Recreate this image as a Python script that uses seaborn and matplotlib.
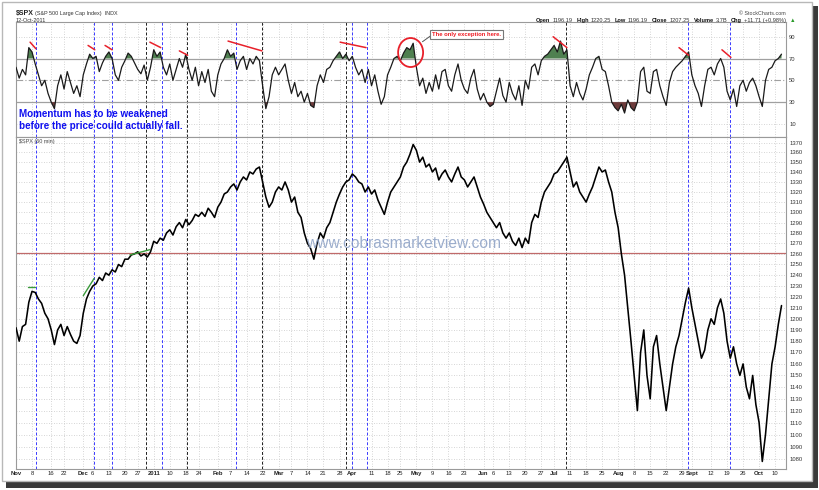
import numpy as np
import pandas as pd
import matplotlib
matplotlib.use("Agg")
import matplotlib.pyplot as plt
import seaborn as sns
from matplotlib.patches import Ellipse, Rectangle

sns.set_theme(style="white")
plt.rcParams['font.family'] = ['Liberation Sans', 'DejaVu Sans']

# ---------------- data ----------------
holidays = ["2010-11-25", "2010-12-24", "2011-01-17", "2011-02-21",
            "2011-04-22", "2011-05-30", "2011-07-04", "2011-09-05"]

price = [1192, 1180, 1193, 1195, 1215, 1225, 1224, 1218, 1214, 1205,
         1200, 1190, 1177, 1190, 1195, 1185, 1193, 1186, 1180, 1178,
         1185, 1205, 1218, 1225, 1230, 1232, 1238, 1235, 1242, 1240,
         1245, 1243, 1250, 1248, 1255, 1255, 1259, 1260, 1262, 1258,
         1260, 1257, 1262, 1272, 1270, 1275, 1273, 1280, 1283, 1278,
         1286, 1290, 1285, 1293, 1288, 1292, 1298, 1296, 1300, 1296,
         1304, 1300, 1295, 1305, 1310, 1318, 1320, 1325, 1328, 1322,
         1330, 1335, 1332, 1340, 1338, 1343, 1345, 1330, 1315, 1305,
         1310, 1320, 1325, 1322, 1330, 1322, 1310, 1315, 1300, 1295,
         1280, 1270, 1265, 1255, 1270, 1280, 1275, 1285, 1290, 1300,
         1310, 1318, 1325, 1330, 1332, 1338, 1335, 1330, 1328, 1320,
         1325, 1318, 1322, 1312, 1305, 1298, 1310, 1320, 1325, 1330,
         1335, 1345, 1350, 1358, 1368, 1362, 1350, 1355, 1345, 1348,
         1340, 1344, 1332, 1338, 1342, 1335, 1330, 1338, 1345, 1335,
         1332, 1325, 1330, 1335, 1325, 1315, 1308, 1300, 1295, 1290,
         1285, 1290, 1280, 1275, 1280, 1272, 1268, 1275, 1266, 1275,
         1270, 1290, 1298, 1295, 1310, 1320, 1325, 1330, 1338, 1340,
         1345, 1350, 1355, 1340, 1325, 1330, 1320, 1315, 1310, 1318,
         1325, 1335, 1345, 1340, 1342, 1330, 1320, 1300, 1285, 1260,
         1240, 1210, 1180, 1150, 1120, 1170, 1190, 1150, 1130, 1175,
         1185, 1160, 1140, 1120, 1140, 1160, 1175, 1185, 1200, 1215,
         1228, 1210, 1195, 1180, 1165, 1172, 1190, 1200, 1195, 1210,
         1218, 1205, 1180, 1165, 1175, 1160, 1150, 1160, 1140, 1130,
         1150, 1125, 1110, 1078, 1100, 1130, 1160, 1175, 1195, 1212]

rsi = [62, 52, 60, 55, 80, 76, 65, 55, 45, 50,
       38, 30, 24, 45, 55, 42, 58, 48, 38, 45,
       35, 55, 65, 74, 70, 72, 58, 66, 72, 76,
       70, 55, 50, 62, 68, 75, 72, 66, 60, 56,
       64, 50, 62, 78, 72, 76, 62, 55, 65, 50,
       60, 70, 62, 74, 60, 50, 62, 45, 58, 48,
       60, 40, 35, 55, 65, 70, 78, 72, 75, 60,
       68, 72, 60, 70, 65, 72, 68, 45, 24, 35,
       55, 62, 55, 60, 65, 50, 38, 48, 35, 40,
       30, 38, 27, 25, 45, 55, 48, 60, 62, 68,
       72, 76, 70, 74, 68, 72, 62, 55, 60, 48,
       60, 45, 55, 40, 28, 35, 55, 62, 70, 72,
       68, 75, 80, 78, 84, 62, 45, 52, 38, 48,
       40, 55, 42, 58, 60, 45, 40, 55, 65, 50,
       42, 38, 52, 60, 42, 32, 38, 30, 26, 28,
       40, 52, 36, 30, 48, 38, 32, 45, 27, 50,
       42, 62, 65, 55, 68, 72, 74, 78, 82, 76,
       86, 74, 78, 45, 35, 48, 38, 32, 42, 55,
       62, 70, 72, 60, 58, 45, 30, 25, 22, 28,
       20, 32, 25, 22, 30, 58, 62, 40, 38, 58,
       60, 45, 35, 27, 48, 58, 62, 65, 68, 72,
       76, 55, 45, 38, 26, 45, 60, 62, 55, 65,
       70, 62, 40, 32, 42, 26, 45, 50, 40, 48,
       52, 45, 35, 26, 50, 60, 62, 68, 70, 74]

tick_dates = ["2010-11-01", "2010-11-08", "2010-11-16", "2010-11-22", "2010-12-01",
              "2010-12-06", "2010-12-13", "2010-12-20", "2010-12-27", "2011-01-03",
              "2011-01-10", "2011-01-18", "2011-01-24", "2011-02-01", "2011-02-07",
              "2011-02-14", "2011-02-22", "2011-03-01", "2011-03-07", "2011-03-14",
              "2011-03-21", "2011-03-28", "2011-04-01", "2011-04-11", "2011-04-18",
              "2011-04-25", "2011-05-02", "2011-05-09", "2011-05-16", "2011-05-23",
              "2011-06-01", "2011-06-06", "2011-06-13", "2011-06-20", "2011-06-27",
              "2011-07-01", "2011-07-11", "2011-07-18", "2011-07-25", "2011-08-01",
              "2011-08-08", "2011-08-15", "2011-08-22", "2011-08-29", "2011-09-01",
              "2011-09-12", "2011-09-19", "2011-09-26", "2011-10-03", "2011-10-10"]
tick_labels = ["Nov", "8", "16", "22", "Dec", "6", "13", "20", "27", "2011",
               "10", "18", "24", "Feb", "7", "14", "22", "Mar", "7", "14",
               "21", "28", "Apr", "11", "18", "25", "May", "9", "16", "23",
               "Jun", "6", "13", "20", "27", "Jul", "11", "18", "25", "Aug",
               "8", "15", "22", "29", "Sept", "12", "19", "26", "Oct", "10"]

price_ticks = list(range(1080, 1380, 10))
rsi_ticks = [10, 30, 50, 70, 90]

blue_vlines = [6.2, 24.4, 30.0, 45.6, 68.7, 104.9, 109.6, 209.8, 222.9]
black_vlines = [40.6, 53.4, 76.8, 103.0, 171.7]

red_segments = [((4.4, 85), (6.2, 79)), ((22.5, 82), (24.6, 78)),
                ((27.8, 82), (30.0, 78)), ((41.8, 85), (45.2, 80)),
                ((51.0, 77), (53.6, 73)), ((66.2, 86), (76.8, 77)),
                ((101.2, 85), (109.3, 80)), ((167.7, 90), (172.0, 80)),
                ((207.0, 80), (210.0, 73)), ((220.4, 78), (223.2, 71))]
green_segments = [((3.7, 1229), (6.0, 1229)), ((21.0, 1221), (24.4, 1237)),
                  ((35.6, 1259), (41.8, 1264))]
support_level = 1261

# ---------------- layout ----------------
W, H = 820, 490
fig = plt.figure(figsize=(8.2, 4.9), dpi=100)
fig.patch.set_facecolor("white")


def fx(px):
    return px / W


def fy(py):
    return 1 - py / H


fig.add_artist(Rectangle((fx(6), fy(488)), 812 / W, 482 / H, transform=fig.transFigure,
                         fc="#3a3a3a", ec="none", zorder=-3))
fig.add_artist(Rectangle((fx(2), fy(481)), 810 / W, 479 / H, transform=fig.transFigure,
                         fc="white", ec="#b8b8b8", lw=1, zorder=-2))

ax_r = fig.add_axes([fx(16), fy(137), 770 / W, 115 / H])
ax_p = fig.add_axes([fx(16), fy(469), 770 / W, 332 / H])

days = pd.bdate_range("2010-11-01", "2011-10-12")
days = days[~days.isin(pd.to_datetime(holidays))]
idx = np.arange(len(days))
tick_pos = [int(np.searchsorted(days, pd.Timestamp(d))) for d in tick_dates]

df = pd.DataFrame({"i": idx, "price": price, "rsi": rsi})

XMAX = 240.4
grid_kw = dict(color="#c8c8c8", lw=0.6, ls=(0, (1, 2)), zorder=0)

for ax in (ax_r, ax_p):
    ax.set_xlim(0, XMAX)
    ax.set_facecolor("white")
    for s in ax.spines.values():
        s.set_color("#9a9a9a")
        s.set_linewidth(0.8)
    for t in tick_pos:
        ax.axvline(t, **grid_kw)
    for v in blue_vlines:
        ax.axvline(v, color="#3a3aff", lw=0.7, ls=(0, (3, 2)), zorder=1)
    for v in black_vlines:
        ax.axvline(v, color="#202020", lw=0.7, ls=(0, (3, 2)), zorder=1)
    ax.yaxis.tick_right()
    ax.tick_params(axis="y", length=0, pad=2.2, labelsize=4.2, colors="#333333")
    ax.tick_params(axis="x", length=0)

# ---------------- RSI panel ----------------
ax_r.set_ylim(-2, 103.5)
for lv in (10, 90):
    ax_r.axhline(lv, **grid_kw)
ax_r.axhline(70, color="#a0a0a0", lw=0.9, zorder=1)
ax_r.axhline(30, color="#a0a0a0", lw=0.9, zorder=1)
ax_r.axhline(50, color="#a0a0a0", lw=0.8, ls=(0, (6, 2, 1, 2)), zorder=1)
r = np.array(rsi, dtype=float)
ax_r.fill_between(idx, r, 70, where=r >= 70, interpolate=True, color="#4f8050", lw=0, zorder=2)
ax_r.fill_between(idx, r, 30, where=r <= 30, interpolate=True, color="#6e3c3c", lw=0, zorder=2)
sns.lineplot(data=df, x="i", y="rsi", ax=ax_r, color="#1a1a1a", lw=0.9, estimator=None, zorder=3)
ax_r.set_yticks(rsi_ticks)
ax_r.set_yticklabels([str(v) for v in rsi_ticks])
ax_r.set_xticks([])
ax_r.set_xlabel("")
ax_r.set_ylabel("")
for (a, b) in red_segments:
    ax_r.plot([a[0], b[0]], [a[1], b[1]], color="#e8202a", lw=1.1, zorder=4)

ax_r.add_patch(Ellipse((123.2, 75.5), 7.8, 26.6, fill=False, ec="#e8202a", lw=1.3, zorder=5))
ax_r.plot([126.9, 129.3], [85.4, 90.5], color="#555555", lw=0.7, zorder=5)
ax_r.text(130.0, 92.0, "The only exception here.", fontsize=4.2, fontweight="bold",
          color="#ee1c24", va="center", ha="left", zorder=6,
          bbox=dict(boxstyle="square,pad=0.35", fc="white", ec="#777777", lw=0.8))

# ---------------- price panel ----------------
ax_p.set_yscale("log")
ax_p.set_ylim(1071.9, 1375.7)
for lv in price_ticks:
    ax_p.axhline(lv, **grid_kw)
ax_p.axhline(support_level, color="#c06a6a", lw=0.9, zorder=1)
sns.lineplot(data=df, x="i", y="price", ax=ax_p, color="black", lw=1.15, estimator=None, zorder=3)
ax_p.yaxis.set_minor_locator(matplotlib.ticker.NullLocator())
ax_p.set_yticks(price_ticks)
ax_p.set_yticklabels([str(v) for v in price_ticks])
ax_p.set_xlabel("")
ax_p.set_ylabel("")
for (a, b) in green_segments:
    ax_p.plot([a[0], b[0]], [a[1], b[1]], color="#3a9a3a", lw=1.0, zorder=4)

ax_p.set_xticks(tick_pos)
ax_p.set_xticklabels(tick_labels)
ax_p.tick_params(axis="x", pad=1.6, labelsize=4.2, colors="#222222")
for lab in ax_p.get_xticklabels():
    if not lab.get_text().isdigit() or lab.get_text() == "2011":
        lab.set_fontweight("bold")

ax_p.text(3 / 770, 1 - 5 / 332, "$SPX (60 min)", transform=ax_p.transAxes,
          fontsize=4.0, color="#444444", va="center", ha="left")

# watermark
fig.text(fx(404), fy(243), "www.cobrasmarketview.com", fontsize=11.2,
         color="#8a9fc4", alpha=0.85, ha="center", va="center", zorder=10)

# blue comment
fig.text(fx(19), fy(114), "Momentum has to be weakened", fontsize=7.1,
         fontweight="bold", color="#1010f0", ha="left", va="center", zorder=10)
fig.text(fx(19), fy(126), "before the price could actually fall.", fontsize=7.1,
         fontweight="bold", color="#1010f0", ha="left", va="center", zorder=10)

# ---------------- header ----------------
fig.text(fx(16), fy(15), "$SPX", fontsize=5.0, fontweight="bold", color="#222222",
         ha="left", va="baseline")
fig.text(fx(35), fy(15), "(S&P 500 Large Cap Index)  INDX", fontsize=3.9, color="#333333",
         ha="left", va="baseline")
fig.text(fx(16), fy(22), "12-Oct-2011", fontsize=4.0, color="#333333",
         ha="left", va="baseline")
fig.text(fx(786), fy(15), "© StockCharts.com", fontsize=3.9, color="#444444",
         ha="right", va="baseline")

pieces = [("Open", "bold", "#111111"), ("1196.19", "normal", "#333333"),
          ("High", "bold", "#111111"), ("1220.25", "normal", "#333333"),
          ("Low", "bold", "#111111"), ("1196.19", "normal", "#333333"),
          ("Close", "bold", "#111111"), ("1207.25", "normal", "#333333"),
          ("Volume", "bold", "#111111"), ("3.7B", "normal", "#333333"),
          ("Chg", "bold", "#111111"), ("+11.71 (+0.98%)", "normal", "#333333"),
          ("▲", "normal", "#2a9a2a")]
renderer = fig.canvas.get_renderer()
xcur = 536.0
for k, (s, w, c) in enumerate(pieces):
    t = fig.text(fx(xcur), fy(22), s, fontsize=4.1, fontweight=w, color=c,
                 ha="left", va="baseline")
    bb = t.get_window_extent(renderer=renderer)
    gap = 1.8 if w == "bold" else 4.0
    xcur += bb.width + gap

fig.savefig("out.png", dpi=100, facecolor="white")
